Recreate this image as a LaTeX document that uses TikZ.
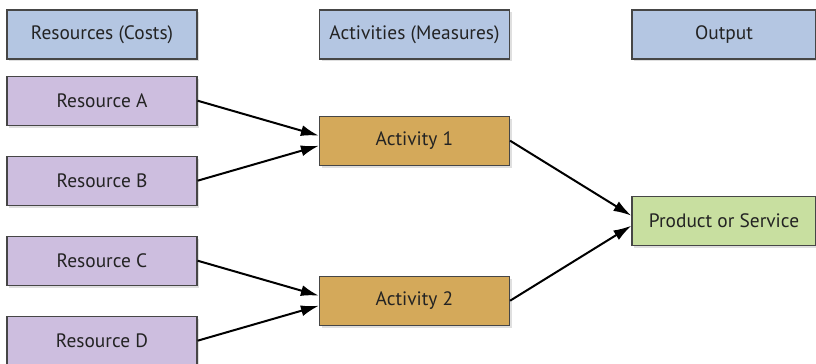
\documentclass[tikz,border=0pt]{standalone}
\usepackage{fontspec}
\setmainfont{PT Sans}
\usetikzlibrary{calc}
\usetikzlibrary{positioning}
\usetikzlibrary{arrows.meta}
\usetikzlibrary{shadows}
\definecolor{headblue}{RGB}{180,198,226}
\definecolor{respurple}{RGB}{205,190,223}
\definecolor{actgold}{RGB}{212,169,90}
\definecolor{outgreen}{RGB}{200,223,160}
\definecolor{boxline}{RGB}{70,70,70}
\definecolor{schrift}{RGB}{35,35,35}
\tikzset{
	>={Latex[length=9pt,width=5.5pt]},
	kasten/.style={
		rectangle,
		draw=boxline, line width=0.6pt,
		minimum width=95pt,
		minimum height=24.5pt,
		text centered,
		text=schrift,
		font=\fontsize{9.7}{12}\selectfont,
		drop shadow={shadow xshift=1.2pt, shadow yshift=-1.2pt, opacity=0.25}},
	kopf/.style={kasten, fill=headblue},
	ressource/.style={kasten, fill=respurple},
	taetigkeit/.style={kasten, fill=actgold},
	ergebnis/.style={kasten, fill=outgreen, minimum width=92pt},
	pfeil/.style={draw, line width=1pt, ->},
}

\begin{document}
\begin{tikzpicture}[x=0.5pt,y=-0.5pt, node distance=14.9pt]
	\useasboundingbox (0,0) rectangle (816,364);
	% Kopfzeile
	\node[kopf] (kres) at (102,34.5) {Resources (Costs)};
	\node[kopf] (kakt) at (414.5,34.5) {Activities (Measures)};
	\node[kopf, minimum width=92pt] (kout) at (724,34.5) {Output};
	% Ressourcen
	\node[ressource, below=8pt of kres] (resa) {Resource A};
	\node[ressource, below=of resa] (resb) {Resource B};
	\node[ressource, below=of resb] (resc) {Resource C};
	\node[ressource, below=of resc] (resd) {Resource D};
	% Aktivitaeten
	\node[taetigkeit] (akt1) at ($(kakt |- resa)!0.5!(kakt |- resb)$) {Activity 1};
	\node[taetigkeit] (akt2) at ($(kakt |- resc)!0.5!(kakt |- resd)$) {Activity 2};
	% Ergebnis
	\node[ergebnis] (prod) at ($(kout |- akt1)!0.5!(kout |- akt2)$) {Product or Service};
	% Pfeile
	\path[pfeil] (resa.east) -- ([yshift=2.5pt]akt1.west);
	\path[pfeil] (resb.east) -- ([yshift=-2.5pt]akt1.west);
	\path[pfeil] (resc.east) -- ([yshift=2.5pt]akt2.west);
	\path[pfeil] (resd.east) -- ([yshift=-2.5pt]akt2.west);
	\path[pfeil] (akt1.east) -- ([yshift=2.5pt]prod.west);
	\path[pfeil] (akt2.east) -- ([yshift=-2.5pt]prod.west);
\end{tikzpicture}
\end{document}
